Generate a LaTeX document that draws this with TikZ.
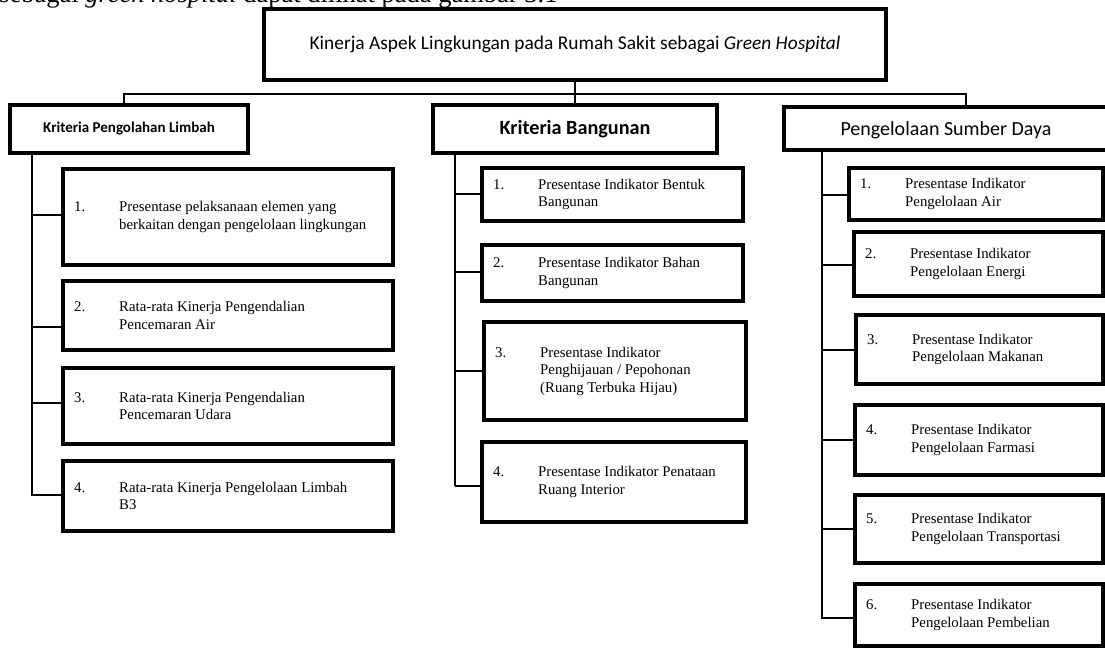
\documentclass[tikz,border=0pt]{standalone}
\usepackage{fontspec}
\setmainfont{Liberation Serif}
\newfontfamily\hdrfont{Carlito}
\tikzset{
  thickbox/.style={draw, line width=4pt, fill=white, inner sep=0pt},
  conn/.style={line width=1.3pt},
  itemtxt/.style={inner sep=0pt, font=\fontsize{14.8}{17.5}\selectfont},
}
% name, x, y, w, h, number, text
\newcommand\itembox[7]{%
  \node[thickbox, anchor=north west, minimum width=#4pt-4pt, minimum height=#5pt-4pt] (#1) at (#2,#3) {};
  \node[itemtxt, anchor=west] (#1t) at ([xshift=13pt]#1.west)
    {\makebox[45pt][l]{#6}\parbox[t]{320pt}{\raggedright #7}};
}
% spine x, y, target node
\newcommand\branch[3]{\draw[conn] (#1,#2) -- (#3.west |- 0,#2);}
\begin{document}
\begin{tikzpicture}[x=1pt, y=-1pt]
\useasboundingbox (0,0) rectangle (1105,650);

% cut-off line of running text above the figure
\node[inner sep=0pt, anchor=base west, font=\fontsize{26.5}{30}\selectfont] (para) at (-1,3)
  {sebagai \textit{green hospital} dapat dilihat pada gambar 3.1};

% top box
\node[thickbox, anchor=north west, minimum width=622pt, minimum height=71pt,
  font=\hdrfont\fontsize{19.4}{23}\selectfont] (top) at (262,7)
  {Kinerja Aspek Lingkungan pada Rumah Sakit sebagai \textit{Green Hospital}};

% headers
\node[thickbox, anchor=north west, minimum width=238pt, minimum height=48pt,
  font=\hdrfont\bfseries\fontsize{15}{18}\selectfont] (lhead) at (8,103) {Kriteria Pengolahan Limbah};
\node[thickbox, anchor=north west, minimum width=284pt, minimum height=48pt,
  font=\hdrfont\bfseries\fontsize{20.2}{24}\selectfont] (mhead) at (431,103) {Kriteria Bangunan};
\node[thickbox, anchor=north west, minimum width=360pt, minimum height=43pt] (rhead) at (782,105) {};
\node[inner sep=0pt, font=\hdrfont\fontsize{20}{24}\selectfont] (rheadt) at (946,130) {Pengelolaan Sumber Daya};

% bus
\coordinate (busL) at (124,94);
\coordinate (busR) at (966,94);
\draw[conn] (top.south) -- (mhead.north);
\draw[conn] (lhead.north -| busL) -- (busL) -- (busR) -- (rhead.north -| busR);

% left column
\itembox{L1}{61}{167}{334}{100}{1.}{Presentase pelaksanaan elemen yang\\berkaitan dengan pengelolaan lingkungan}
\itembox{L2}{61}{279}{334}{73}{2.}{Rata-rata Kinerja Pengendalian\\Pencemaran Air}
\itembox{L3}{61}{366}{334}{80}{3.}{Rata-rata Kinerja Pengendalian\\Pencemaran Udara}
\itembox{L4}{61}{459}{334}{74}{4.}{Rata-rata Kinerja Pengelolaan Limbah\\B3}
\coordinate (lend) at (32,496);
\draw[conn] (lhead.south -| lend) -- (lend);
\branch{32}{215}{L1}
\branch{32}{327}{L2}
\branch{32}{403}{L3}
\branch{32}{495}{L4}

% middle column
\itembox{M1}{480}{166}{265}{57}{1.}{Presentase Indikator Bentuk\\Bangunan}
\itembox{M2}{480}{243}{265}{60}{2.}{Presentase Indikator Bahan\\Bangunan}
\itembox{M3}{482}{320}{266}{102}{3.}{Presentase Indikator\\Penghijauan / Pepohonan\\(Ruang Terbuka Hijau)}
\itembox{M4}{480}{440}{268}{84}{4.}{Presentase Indikator Penataan\\Ruang Interior}
\coordinate (mend) at (455,486);
\draw[conn] (mhead.south -| mend) -- (mend);
\branch{455}{194}{M1}
\branch{455}{272}{M2}
\branch{455}{371}{M3}
\branch{455}{486}{M4}

% right column
\itembox{R1}{847}{166}{258}{56}{1.}{Presentase Indikator\\Pengelolaan Air}
\itembox{R2}{852}{230}{253}{68}{2.}{Presentase Indikator\\Pengelolaan Energi}
\itembox{R3}{854}{313}{251}{73}{3.}{Presentase Indikator\\Pengelolaan Makanan}
\itembox{R4}{853}{403}{252}{74}{4.}{Presentase Indikator\\Pengelolaan Farmasi}
\itembox{R5}{853}{493}{252}{72}{5.}{Presentase Indikator\\Pengelolaan Transportasi}
\itembox{R6}{853}{582}{252}{66}{6.}{Presentase Indikator\\Pengelolaan Pembelian}
\coordinate (rend) at (822,619);
\draw[conn] (rhead.south -| rend) -- (rend);
\branch{822}{195}{R1}
\branch{822}{265}{R2}
\branch{822}{350}{R3}
\branch{822}{440}{R4}
\branch{822}{529}{R5}
\branch{822}{618}{R6}
\end{tikzpicture}
\end{document}
